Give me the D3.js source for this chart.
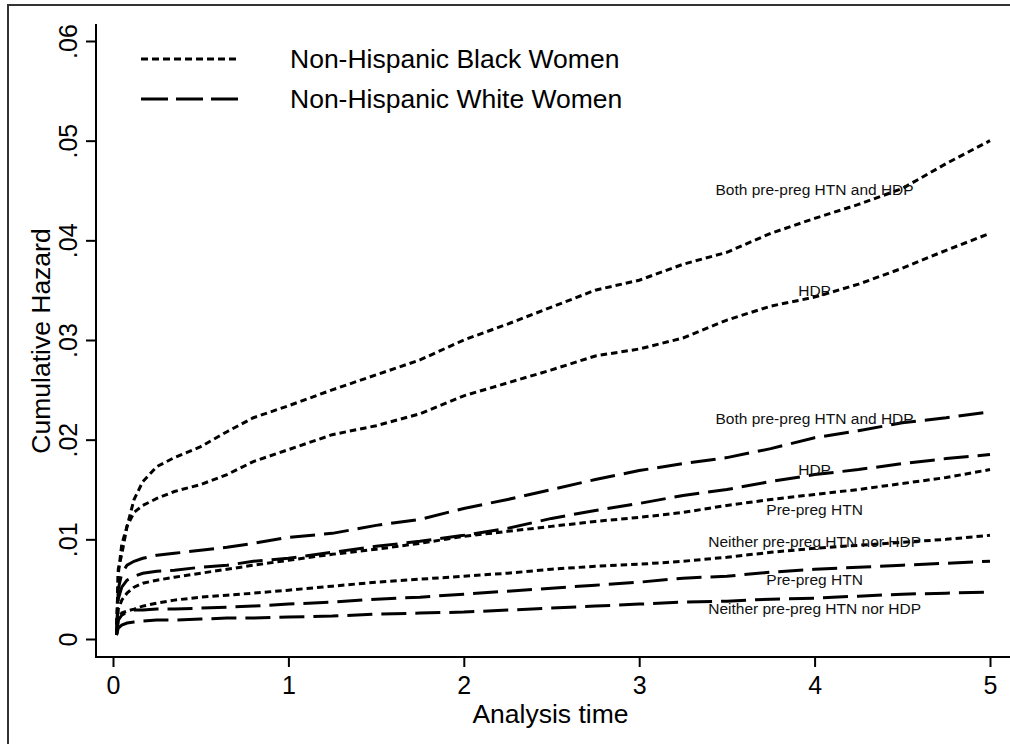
<!DOCTYPE html>
<html>
<head>
<meta charset="utf-8">
<script src="https://cdn.jsdelivr.net/npm/d3@7"></script>
<style>
  html, body { margin: 0; padding: 0; background: #fff; }
  svg { display: block; font-family: "Liberation Sans", Arial, sans-serif; }
</style>
</head>
<body>
<svg id="chart" width="1010" height="744"></svg>
<script>
// ---- data ----
const time = [0.02, 0.03, 0.05, 0.08, 0.12, 0.17, 0.25, 0.35, 0.5, 0.65, 0.8, 1.0, 1.25, 1.5, 1.75, 2.0, 2.25, 2.5, 2.75, 3.0, 3.25, 3.5, 3.75, 4.0, 4.25, 4.5, 4.75, 5.0];
const blackBoth    = [0.0004, 0.0070, 0.0085, 0.0113, 0.0140, 0.0158, 0.0173, 0.0182, 0.0193, 0.0208, 0.0222, 0.0234, 0.0250, 0.0265, 0.0280, 0.0300, 0.0316, 0.0333, 0.0350, 0.0360, 0.0376, 0.0388, 0.0407, 0.0422, 0.0436, 0.0452, 0.0477, 0.0500];
const blackHDP     = [0.0004, 0.0065, 0.0095, 0.0113, 0.0127, 0.0134, 0.0141, 0.0148, 0.0155, 0.0165, 0.0178, 0.0190, 0.0205, 0.0214, 0.0226, 0.0244, 0.0257, 0.0270, 0.0284, 0.0291, 0.0302, 0.0320, 0.0334, 0.0343, 0.0356, 0.0372, 0.0390, 0.0407];
const blackHTN     = [0.0004, 0.0030, 0.0039, 0.0046, 0.0052, 0.0056, 0.0059, 0.0062, 0.0066, 0.0070, 0.0074, 0.0079, 0.0085, 0.0090, 0.0096, 0.0103, 0.0108, 0.0113, 0.0118, 0.0122, 0.0127, 0.0134, 0.0140, 0.0145, 0.0150, 0.0156, 0.0162, 0.0170];
const blackNeither = [0.0004, 0.0020, 0.0026, 0.0028, 0.0030, 0.0033, 0.0036, 0.0039, 0.0042, 0.0044, 0.0046, 0.0049, 0.0053, 0.0057, 0.0060, 0.0063, 0.0066, 0.0070, 0.0073, 0.0075, 0.0078, 0.0082, 0.0087, 0.0091, 0.0094, 0.0097, 0.0100, 0.0104];
const whiteBoth    = [0.0004, 0.0050, 0.0066, 0.0074, 0.0078, 0.0081, 0.0084, 0.0086, 0.0089, 0.0092, 0.0096, 0.0102, 0.0106, 0.0114, 0.0120, 0.0131, 0.0140, 0.0150, 0.0160, 0.0169, 0.0176, 0.0182, 0.0191, 0.0202, 0.0209, 0.0217, 0.0222, 0.0228];
const whiteHDP     = [0.0004, 0.0040, 0.0052, 0.0059, 0.0063, 0.0066, 0.0068, 0.0069, 0.0072, 0.0074, 0.0078, 0.0081, 0.0087, 0.0093, 0.0098, 0.0104, 0.0111, 0.0121, 0.0129, 0.0136, 0.0144, 0.0150, 0.0158, 0.0165, 0.0170, 0.0176, 0.0181, 0.0185];
const whiteHTN     = [0.0004, 0.0019, 0.0024, 0.0027, 0.0029, 0.0029, 0.0030, 0.0030, 0.0031, 0.0032, 0.0033, 0.0035, 0.0037, 0.0040, 0.0042, 0.0045, 0.0048, 0.0051, 0.0054, 0.0057, 0.0061, 0.0063, 0.0067, 0.0070, 0.0072, 0.0074, 0.0076, 0.0078];
const whiteNeither = [0.0004, 0.0011, 0.0014, 0.0016, 0.0017, 0.0018, 0.0019, 0.0019, 0.0020, 0.0021, 0.0021, 0.0022, 0.0023, 0.0025, 0.0026, 0.0027, 0.0029, 0.0031, 0.0033, 0.0035, 0.0037, 0.0038, 0.0040, 0.0041, 0.0043, 0.0045, 0.0046, 0.0047];

const xTicks = [0, 1, 2, 3, 4, 5];
const yTicks = [0, 0.01, 0.02, 0.03, 0.04, 0.05, 0.06];
const yTickLabels = ["0", ".01", ".02", ".03", ".04", ".05", ".06"];
const legendLabels = ["Non-Hispanic Black Women", "Non-Hispanic White Women"];

// series: values, group, label text, label value (placed at t=4)
const seriesList = [
  { values: blackBoth,    group: "black", label: "Both pre-preg HTN and HDP",     labelValue: 0.0451 },
  { values: blackHDP,     group: "black", label: "HDP",                           labelValue: 0.0350 },
  { values: whiteBoth,    group: "white", label: "Both pre-preg HTN and HDP",     labelValue: 0.0221 },
  { values: whiteHDP,     group: "white", label: "HDP",                           labelValue: 0.0170 },
  { values: blackHTN,     group: "black", label: "Pre-preg HTN",                  labelValue: 0.0130 },
  { values: blackNeither, group: "black", label: "Neither pre-preg HTN nor HDP",  labelValue: 0.0098 },
  { values: whiteHTN,     group: "white", label: "Pre-preg HTN",                  labelValue: 0.0060 },
  { values: whiteNeither, group: "white", label: "Neither pre-preg HTN nor HDP",  labelValue: 0.0031 }
];
const labelTime = 4.0;

// ---- layout ----
const svg = d3.select("#chart");
const x = d3.scaleLinear().domain([0, 5]).range([113, 990]);
const y = d3.scaleLinear().domain([0, 0.06]).range([639, 41]);
const dashStyle = { black: "6.5,4", white: "25,9" };

// outer frame
svg.append("rect").attr("x", 8).attr("y", 5).attr("width", 1020).attr("height", 760)
  .attr("fill", "none").attr("stroke", "#333").attr("stroke-width", 2);

// axes
const xAxisY = 657;
const yAxisX = 96;
const xAxis = svg.append("g").attr("transform", `translate(0,${xAxisY})`)
  .call(d3.axisBottom(x).tickValues(xTicks).tickFormat(d3.format("d")).tickSizeOuter(0).tickSize(10).tickPadding(9));
xAxis.select(".domain").remove();
xAxis.append("line").attr("x1", yAxisX - 1).attr("x2", 1012).attr("y1", 0).attr("y2", 0)
  .attr("stroke", "#000").attr("stroke-width", 2);
xAxis.selectAll(".tick line").attr("stroke", "#000").attr("stroke-width", 2);
xAxis.selectAll(".tick text").attr("font-size", 25).attr("fill", "#000")
  .attr("font-family", "Liberation Sans, Arial, sans-serif");

const yAxis = svg.append("g").attr("transform", `translate(${yAxisX},0)`)
  .call(d3.axisLeft(y).tickValues(yTicks).tickFormat((d, i) => yTickLabels[i]).tickSizeOuter(0).tickSize(10));
yAxis.select(".domain").remove();
yAxis.append("line").attr("x1", 0).attr("x2", 0).attr("y1", 24).attr("y2", xAxisY + 1)
  .attr("stroke", "#000").attr("stroke-width", 2);
yAxis.selectAll(".tick line").attr("stroke", "#000").attr("stroke-width", 2);
yAxis.selectAll(".tick text")
  .attr("x", null).attr("dy", null)
  .attr("text-anchor", "middle")
  .attr("transform", "translate(-19,0) rotate(-90)")
  .attr("font-size", 25).attr("fill", "#000")
  .attr("font-family", "Liberation Sans, Arial, sans-serif");

// axis titles
svg.append("text").attr("x", (x(0) + x(5)) / 2 - 1).attr("y", 723).attr("text-anchor", "middle")
  .attr("font-size", 26.5).text("Analysis time");
svg.append("text").attr("transform", `translate(50,${(y(0) + y(0.06)) / 2 + 1}) rotate(-90)`)
  .attr("text-anchor", "middle").attr("font-size", 26.5).text("Cumulative Hazard");

// lines
const line = d3.line().x((d, i) => x(time[i])).y(d => y(d)).curve(d3.curveLinear);
svg.append("g").selectAll("path").data(seriesList).join("path")
  .attr("d", s => line(s.values))
  .attr("fill", "none").attr("stroke", "#000").attr("stroke-width", 3)
  .attr("stroke-dasharray", s => dashStyle[s.group]);

// curve labels
svg.append("g").selectAll("text").data(seriesList).join("text")
  .attr("x", x(labelTime)).attr("y", s => y(s.labelValue))
  .attr("text-anchor", "middle").attr("dy", "0.35em")
  .attr("font-size", 15.5).attr("fill", "#111").text(s => s.label);

// legend
const legend = svg.append("g");
["black", "white"].forEach((g, i) => {
  const ly = 59 + i * 40;
  legend.append("line").attr("x1", 141).attr("x2", 238).attr("y1", ly).attr("y2", ly)
    .attr("stroke", "#000").attr("stroke-width", 3).attr("stroke-dasharray", g === "black" ? "7,4" : "27,8");
  legend.append("text").attr("x", 290).attr("y", ly).attr("dy", "0.35em")
    .attr("font-size", 26.5).text(legendLabels[i]);
});
</script>
</body>
</html>
